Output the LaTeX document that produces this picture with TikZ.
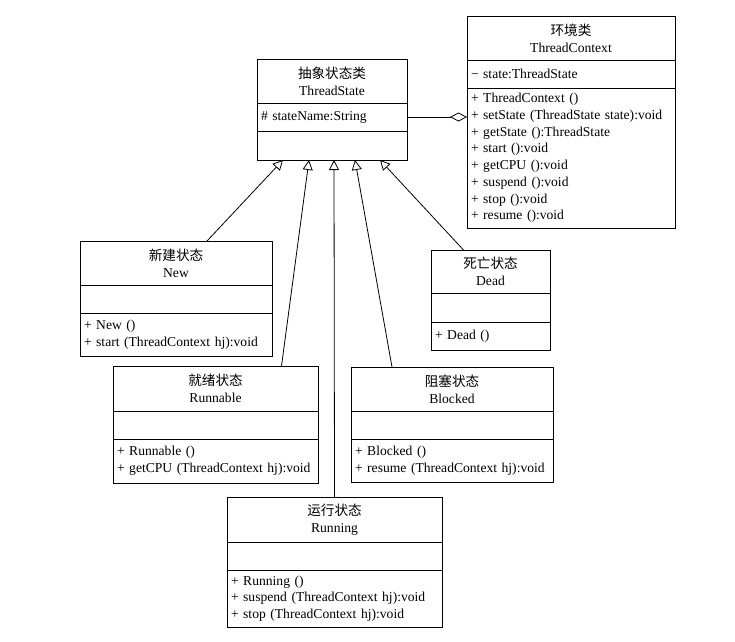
\documentclass[tikz,border=0pt]{standalone}
\usepackage{fontspec}
\setmainfont{Liberation Serif}
\newfontfamily\cjk{Noto Sans CJK SC}
\usetikzlibrary{positioning,arrows.meta}

\begin{document}
\begin{tikzpicture}[x=1pt, y=-1pt, node distance=0pt,
    every node/.style={font=\fontsize{13.6}{16.7}\selectfont},
    part/.style={rectangle, draw, line width=0.8pt, outer sep=0pt, inner xsep=4pt, inner ysep=0pt},
    head/.style={part, align=center},
    body/.style={part, align=left},
    inherit/.style={line width=0.8pt, -{Triangle[open, length=10pt, width=10pt]}},
    aggr/.style={line width=0.8pt, {Diamond[open, length=17pt, width=9pt]}-}]

    \useasboundingbox (0,0) rectangle (735,641);

    % Abstract state class
    \node (tshead) [head, text width=142pt, minimum height=44pt, anchor=north west] at (257,59) {{\cjk 抽象状态类}\\ThreadState};
    \node (tsattr) [body, text width=142pt, minimum height=28pt, below=of tshead] {\# stateName:String};
    \node (tsops) [body, text width=142pt, minimum height=29pt, below=of tsattr] {};

    % Context class
    \node (tchead) [head, text width=200pt, minimum height=44pt, anchor=north west] at (467,16) {{\cjk 环境类}\\ThreadContext};
    \node (tcattr) [body, text width=200pt, minimum height=28pt, below=of tchead] {− state:ThreadState};
    \node (tcops) [body, text width=200pt, minimum height=140pt, below=of tcattr] {+ ThreadContext ()\\+ setState (ThreadState state):void\\+ getState ():ThreadState\\+ start ():void\\+ getCPU ():void\\+ suspend ():void\\+ stop ():void\\+ resume ():void};
    \draw[aggr] (tsattr.east -| tcops.west) -- (tsattr.east);

    % New state
    \node (newhead) [head, text width=184pt, minimum height=44pt, anchor=north west] at (80,241) {{\cjk 新建状态}\\New};
    \node (newattr) [body, text width=184pt, minimum height=28pt, below=of newhead] {};
    \node (newops) [body, text width=184pt, minimum height=43pt, below=of newattr] {+ New ()\\+ start (ThreadContext hj):void};

    % Dead state
    \node (deadhead) [head, text width=111pt, minimum height=43pt, anchor=north west] at (431,250) {{\cjk 死亡状态}\\Dead};
    \node (deadattr) [body, text width=111pt, minimum height=29pt, below=of deadhead] {};
    \node (deadops) [body, text width=111pt, minimum height=28pt, below=of deadattr] {+ Dead ()};

    % Runnable state
    \node (runhead) [head, text width=197pt, minimum height=45pt, anchor=north west] at (113,366) {{\cjk 就绪状态}\\Runnable};
    \node (runattr) [body, text width=197pt, minimum height=28pt, below=of runhead] {};
    \node (runops) [body, text width=197pt, minimum height=44pt, below=of runattr] {+ Runnable ()\\+ getCPU (ThreadContext hj):void};

    % Blocked state
    \node (blkhead) [head, text width=194pt, minimum height=44pt, anchor=north west] at (351,367) {{\cjk 阻塞状态}\\Blocked};
    \node (blkattr) [body, text width=194pt, minimum height=28pt, below=of blkhead] {};
    \node (blkops) [body, text width=194pt, minimum height=43pt, below=of blkattr] {+ Blocked ()\\+ resume (ThreadContext hj):void};

    % Running state
    \node (rnghead) [head, text width=207pt, minimum height=45pt, anchor=north west] at (227,497) {{\cjk 运行状态}\\Running};
    \node (rngattr) [body, text width=207pt, minimum height=28pt, below=of rnghead] {};
    \node (rngops) [body, text width=207pt, minimum height=57pt, below=of rngattr] {+ Running ()\\+ suspend (ThreadContext hj):void\\+ stop (ThreadContext hj):void};

    % Generalisations
    \draw[inherit] ([xshift=31pt]newhead.north) -- ([xshift=-49pt]tsops.south);
    \draw[inherit] ([xshift=66pt]runhead.north) -- ([xshift=-23pt]tsops.south);
    \draw[inherit] ([xshift=0pt]rnghead.north) -- ([xshift=2pt]tsops.south);
    \draw[inherit] ([xshift=-60pt]blkhead.north) -- ([xshift=23pt]tsops.south);
    \draw[inherit] ([xshift=-27pt]deadhead.north) -- ([xshift=48pt]tsops.south);

\end{tikzpicture}
\end{document}
